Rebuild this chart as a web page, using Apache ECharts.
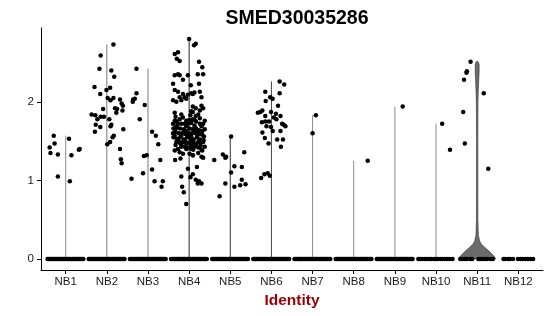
<!DOCTYPE html>
<html>
<head>
<meta charset="utf-8">
<script src="https://cdn.jsdelivr.net/npm/echarts@6/dist/echarts.min.js"></script>
<style>
html,body{margin:0;padding:0;background:#fff;}
#chart{width:550px;height:316px;}
</style>
</head>
<body>
<div id="chart"></div>
<script>
// ---- data ----
const chartTitle = 'SMED30035286';
const xTitle = 'Identity';
const categories = ['NB1','NB2','NB3','NB4','NB5','NB6','NB7','NB8','NB9','NB10','NB11','NB12'];
const yTicks = [0, 1, 2];

// non-zero cells per group: [jitter offset within group, expression value]
const nb1 = [[-0.29,1.57],[-0.39,1.42],[-0.27,1.47],[-0.37,1.35],[-0.19,1.33],[0.08,1.53],[0.14,1.32],[0.34,1.40],[0.32,1.39],[-0.19,1.05],[0.10,0.99]];
const nb2 = [[0.16,2.73],[-0.15,2.59],[-0.18,2.42],[0.11,2.40],[0.18,2.32],[-0.30,2.19],[0.08,2.18],[-0.16,2.10],[-0.01,2.15],[0.02,2.05],[0.09,2.02],[0.16,2.05],[0.32,2.03],[0.36,1.98],[0.39,1.95],[0.38,1.89],[0.20,1.92],[0.25,1.91],[0.23,1.86],[-0.09,1.91],[-0.37,1.84],[-0.28,1.83],[-0.15,1.81],[-0.07,1.81],[-0.23,1.78],[0.06,1.78],[-0.27,1.71],[-0.16,1.68],[0.11,1.71],[0.09,1.69],[0.40,1.65],[-0.29,1.62],[0.17,1.57],[0.14,1.55],[0.08,1.49],[0.01,1.46],[0.32,1.40],[0.34,1.27],[0.36,1.22]];
const nb3 = [[-0.28,2.42],[-0.28,2.11],[-0.36,2.03],[-0.32,2.04],[-0.37,2.00],[-0.08,1.96],[-0.20,1.78],[0.10,1.62],[0.19,1.57],[0.25,1.46],[-0.03,1.32],[-0.10,1.31],[0.30,1.26],[0.10,1.14],[-0.12,1.09],[-0.40,1.02],[0.16,0.99],[0.36,0.99],[0.33,0.92]];
const nb4 = [[0.00,2.80],[0.12,2.72],[0.16,2.74],[-0.35,2.61],[-0.27,2.63],[-0.30,2.55],[-0.23,2.52],[0.24,2.51],[0.32,2.44],[0.21,2.35],[0.34,2.35],[-0.35,2.34],[-0.27,2.35],[-0.23,2.34],[-0.03,2.34],[-0.15,2.28],[-0.39,2.23],[0.24,2.23],[0.04,2.21],[-0.35,2.15],[-0.27,2.13],[-0.15,2.10],[0.26,2.13],[-0.23,2.06],[-0.11,2.06],[-0.03,2.09],[0.05,2.11],[0.13,2.12],[0.09,2.10],[-0.39,2.02],[-0.31,2.00],[-0.19,2.02],[-0.07,2.04],[0.30,2.06],[0.09,1.94],[0.16,1.92],[0.26,1.89],[0.05,1.88],
[-0.35,1.86],[-0.33,1.81],[0.09,1.87],[0.16,1.82],[0.22,1.84],[0.30,1.95],[0.34,1.92],[0.26,1.79],[0.09,1.78],[0.00,1.77],[-0.15,1.80],[-0.23,1.78],[-0.35,1.76],[-0.39,1.72],[-0.27,1.72],[-0.19,1.72],[-0.11,1.72],[-0.03,1.72],[0.05,1.73],[0.17,1.75],[0.26,1.72],[0.34,1.72],[0.38,1.76],
[-0.38,1.66],[-0.30,1.67],[-0.22,1.66],[-0.13,1.65],[-0.07,1.63],[0.01,1.66],[0.09,1.65],[0.17,1.66],[0.24,1.64],[0.32,1.63],[0.38,1.65],[-0.33,1.62],[-0.25,1.60],[-0.17,1.60],[-0.09,1.59],[0.00,1.60],[0.08,1.60],[0.16,1.60],[0.24,1.59],[0.32,1.58],[-0.39,1.60],
[-0.38,1.55],[-0.30,1.53],[-0.22,1.55],[-0.13,1.52],[-0.05,1.55],[0.03,1.53],[0.11,1.52],[0.19,1.55],[0.27,1.52],[0.35,1.51],[-0.31,1.49],[-0.23,1.48],[-0.15,1.49],[-0.07,1.47],[0.01,1.48],[0.09,1.49],[0.17,1.47],[0.26,1.48],[0.34,1.49],
[-0.35,1.38],[-0.27,1.40],[-0.19,1.43],[-0.11,1.43],[-0.03,1.42],[0.05,1.40],[0.13,1.43],[0.22,1.42],[0.30,1.39],[-0.23,1.36],[-0.15,1.34],[0.01,1.34],[0.09,1.32],[0.22,1.35],[0.32,1.38],[0.38,1.43],[-0.33,1.45],[0.05,1.45],
[-0.31,1.69],[-0.07,1.69],[0.13,1.70],[0.30,1.69],[-0.13,1.62],[0.13,1.63],[0.20,1.62],[-0.35,1.57],[-0.19,1.57],[-0.03,1.57],[0.05,1.56],[0.20,1.57],[0.36,1.56],[-0.26,1.51],[-0.09,1.50],[0.07,1.50],[0.23,1.50],[-0.19,1.45],[0.15,1.45],[0.28,1.44],[-0.07,1.76],[0.13,1.77],[-0.31,1.75],[-0.19,1.84],[0.03,1.83],[-0.07,1.40],[0.10,1.39],
[-0.34,1.26],[-0.21,1.28],[0.09,1.32],[0.30,1.30],[0.34,1.29],[-0.03,1.15],[0.19,1.17],[0.09,1.08],[0.03,1.04],[-0.19,1.05],[0.16,1.01],[0.24,0.99],[0.30,0.96],[0.21,0.96],[-0.17,0.92],[-0.13,0.85],[-0.07,0.70]];
const nb5 = [[0.02,1.56],[-0.39,1.26],[-0.18,1.33],[-0.12,1.29],[-0.10,1.30],[0.34,1.36],[0.10,1.18],[0.28,1.17],[0.02,1.10],[0.28,1.01],[-0.12,0.96],[0.10,0.92],[0.24,0.94],[0.37,0.95],[-0.26,0.80]];
const nb6 = [[0.20,2.26],[0.31,2.22],[-0.15,2.13],[-0.03,2.06],[0.03,2.04],[0.20,2.11],[-0.14,2.01],[0.16,1.95],[-0.33,1.86],[-0.27,1.87],[-0.22,1.89],[-0.01,1.87],[0.11,1.85],[-0.15,1.82],[0.22,1.82],[0.06,1.80],[0.12,1.78],[-0.23,1.74],[-0.15,1.75],[-0.06,1.75],[0.26,1.72],[0.34,1.69],[0.30,1.71],[-0.12,1.69],[-0.01,1.68],[0.03,1.63],[-0.22,1.61],[0.22,1.63],[-0.16,1.54],[0.14,1.52],[0.28,1.52],[-0.07,1.47],[0.23,1.43],[-0.25,1.03],[-0.17,1.08],[-0.09,1.09],[-0.04,1.06]];
const nb7 = [[0.08,1.83],[0.00,1.60]];
const nb8 = [[0.34,1.25]];
const nb9 = [[0.19,1.94]];
const nb10 = [[0.15,1.72],[0.34,1.39]];
const nb11 = [[-0.16,2.51],[-0.25,2.39],[-0.26,2.37],[-0.32,2.28],[0.16,2.11],[-0.34,1.87],[-0.30,1.47],[0.27,1.15]];
const nb12 = [];

// jitter offsets of the cells with value 0 in each group
const zeroDense = [-0.44,-0.41,-0.38,-0.35,-0.32,-0.29,-0.26,-0.23,-0.20,-0.17,-0.14,-0.11,-0.08,-0.05,-0.02,0.01,0.04,0.07,0.10,0.13,0.16,0.19,0.22,0.25,0.28,0.31,0.34,0.37,0.40,0.43];
const zeroNB10 = [-0.43,-0.38,-0.33,-0.27,-0.22,-0.16,-0.12,-0.05,0.00,0.04,0.10,0.15,0.21,0.27,0.33,0.40];
const zeroNB11 = [-0.41,-0.36,-0.30,-0.25,-0.17,-0.12,0.03,0.07,0.12,0.19,0.24,0.32,0.38];
const zeroNB12 = [-0.36,-0.32,-0.25,-0.20,-0.13,-0.01,0.05,0.11,0.17,0.23,0.30,0.36];

// NB11 violin outline: expression level and half width (in group units)
const nb11ViolinLevels    = [0.00,0.03,0.064,0.106,0.15,0.19,0.23,0.30,0.50,1.00,1.50,2.00,2.17,2.30,2.38,2.47,2.50,2.52];
const nb11ViolinHalfWidth = [0.45,0.42,0.36,0.28,0.18,0.10,0.06,0.03,0.018,0.016,0.016,0.02,0.03,0.04,0.048,0.048,0.035,0.0];

// ---- styles ----
const violinLineColors = ['#8a8a8a','#7a7a7a','#7a7a7a','#2a2a2a','#333333','#444444','#8a8a8a','#8a8a8a','#8a8a8a','#8a8a8a','#444444','#8a8a8a'];

const groupPoints = [nb1,nb2,nb3,nb4,nb5,nb6,nb7,nb8,nb9,nb10,nb11,nb12];
const groupZeros = [zeroDense,zeroDense,zeroDense,zeroDense,zeroDense,zeroDense,zeroDense,zeroDense,zeroDense,zeroNB10,zeroNB11,zeroNB12];

const scatterData = [];
groupPoints.forEach((pts, i) => pts.forEach(p => scatterData.push([i + 1 + p[0], p[1]])));
groupZeros.forEach((offs, i) => offs.forEach(o => scatterData.push([i + 1 + o, 0])));

const violinLines = [];
groupPoints.forEach((pts, i) => {
  if (pts.length && i !== 10) violinLines.push([i + 1, Math.max(...pts.map(p => p[1])), i]);
});

const chart = echarts.init(document.getElementById('chart'), null, {renderer: 'canvas'});
chart.setOption({
  animation: false,
  backgroundColor: '#ffffff',
  title: {
    text: chartTitle,
    left: 292,
    textAlign: 'center',
    top: 4,
    textStyle: {fontFamily: 'Liberation Sans, Arial, sans-serif', fontWeight: 'bold', fontSize: 19.5, color: '#000'}
  },
  grid: {left: 41, right: 7, top: 28, bottom: 46, containLabel: false},
  xAxis: {
    type: 'value', min: 0.4, max: 12.6,
    name: xTitle, nameLocation: 'middle', nameGap: 21,
    nameTextStyle: {fontFamily: 'Liberation Sans, Arial, sans-serif', fontWeight: 'bold', fontSize: 15.5, color: '#9b0000'},
    axisLine: {show: true, onZero: false, lineStyle: {color: '#000', width: 1}},
    axisTick: {show: true, customValues: categories.map((c, i) => i + 1), length: 4, lineStyle: {color: '#000'}},
    axisLabel: {customValues: categories.map((c, i) => i + 1), formatter: v => categories[Math.round(v) - 1], margin: 6,
      fontFamily: 'Liberation Sans, Arial, sans-serif', fontSize: 11.5, color: '#1a1a1a'},
    splitLine: {show: false}
  },
  yAxis: {
    type: 'value', min: -0.14, max: 2.94,
    axisLine: {show: true, onZero: false, lineStyle: {color: '#000', width: 1}},
    axisTick: {show: true, customValues: yTicks, length: 4, lineStyle: {color: '#000'}},
    axisLabel: {customValues: yTicks, margin: 7, fontFamily: 'Liberation Sans, Arial, sans-serif', fontSize: 11.5, color: '#1a1a1a'},
    splitLine: {show: false}
  },
  series: [
    {
      type: 'custom', silent: true, z: 1,
      data: violinLines,
      renderItem: (params, api) => {
        const x = api.value(0), top = api.value(1), gi = api.value(2);
        const p0 = api.coord([x, 0]);
        const p1 = api.coord([x, top]);
        return {type: 'line', shape: {x1: p0[0], y1: p0[1], x2: p1[0], y2: p1[1]},
          style: {stroke: violinLineColors[gi], lineWidth: 1}};
      }
    },
    {
      type: 'custom', silent: true, z: 1,
      data: [[11]],
      renderItem: (params, api) => {
        const cx = api.value(0);
        const pts = [];
        nb11ViolinLevels.forEach((lv, k) => pts.push(api.coord([cx - nb11ViolinHalfWidth[k], lv])));
        for (let k = nb11ViolinLevels.length - 1; k >= 0; k--) pts.push(api.coord([cx + nb11ViolinHalfWidth[k], nb11ViolinLevels[k]]));
        return {type: 'polygon', shape: {points: pts}, style: {fill: '#6b6b6b', stroke: '#333', lineWidth: 0.6}};
      }
    },
    {
      type: 'scatter', silent: true, z: 3,
      symbol: 'circle', symbolSize: 4.5,
      itemStyle: {color: '#000', opacity: 1},
      data: scatterData
    }
  ]
});
</script>
</body>
</html>
